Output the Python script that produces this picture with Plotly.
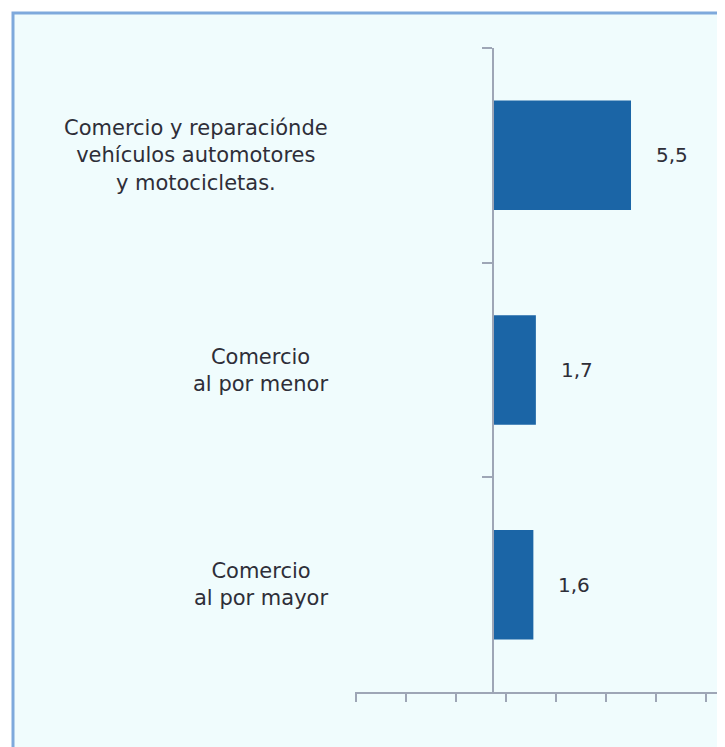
import plotly.graph_objects as go

categories = [
    "Comercio y reparaciónde<br>vehículos automotores<br>y motocicletas.",
    "Comercio<br>al por menor",
    "Comercio<br>al por mayor",
]
values = [5.5, 1.7, 1.6]
value_labels = [f"{v:.1f}".replace(".", ",") for v in values]

OFF = 8  # page body margin
W, H = 725 - OFF, 747 - OFF
L, R, T, B = 355 - OFF, 718 - OFF, 48 - OFF, 692 - OFF  # plot area in figure pixels
zero_px = 493 - OFF
border_px = 13 - OFF
label_right_px = 330 - OFF

axis_col = "#9ea6b6"
text_col = "#2e2e38"
font_family = "DejaVu Sans, Liberation Sans, Arial, sans-serif"

fig = go.Figure(
    go.Bar(
        x=values,
        y=categories,
        orientation="h",
        width=0.51,
        marker=dict(color="#1b65a6", line=dict(width=0)),
        hoverinfo="skip",
    )
)

annotations = []
for c in categories:
    annotations.append(dict(
        x=(label_right_px - L) / (R - L), xref="paper", y=c, yref="y",
        text=c, showarrow=False, xanchor="right", yanchor="middle", align="center",
        font=dict(family=font_family, size=21, color=text_col),
    ))
for c, v, t in zip(categories, values, value_labels):
    annotations.append(dict(
        x=v, xref="x", y=c, yref="y", text=t, showarrow=False,
        xanchor="left", yanchor="middle", xshift=23,
        font=dict(family=font_family, size=20, color=text_col),
    ))

px_per_unit = 25.07
fig.update_layout(
    width=W, height=H,
    margin=dict(l=L, r=W - R, t=T, b=H - B, pad=0),
    paper_bgcolor="white",
    plot_bgcolor="rgba(0,0,0,0)",
    showlegend=False,
    annotations=annotations,
    shapes=[dict(
        type="rect", xref="paper", yref="paper", layer="below",
        x0=(border_px - L) / (R - L), x1=(W + 20 - L) / (R - L),
        y0=(B - H - 20) / (B - T), y1=(B - border_px) / (B - T),
        fillcolor="#f0fcfd", line=dict(color="#7ea9dc", width=3),
    )],
    xaxis=dict(
        range=[-(zero_px - L) / px_per_unit - 0.02, (R - zero_px) / px_per_unit],
        showgrid=False, zeroline=False,
        showline=True, linecolor=axis_col, linewidth=2,
        ticks="outside", ticklen=8, tickwidth=2, tickcolor=axis_col,
        tick0=0.5, dtick=2, showticklabels=False,
        fixedrange=True,
    ),
    yaxis=dict(
        categoryorder="array", categoryarray=categories,
        range=[2.5, -0.5],
        anchor="free", position=(zero_px - L) / (R - L),
        showgrid=False, zeroline=False,
        showline=True, linecolor=axis_col, linewidth=2,
        ticks="outside", ticklen=10, tickwidth=2, tickcolor=axis_col,
        tickson="boundaries", showticklabels=False,
        fixedrange=True,
    ),
)

fig.write_html("out.html")
